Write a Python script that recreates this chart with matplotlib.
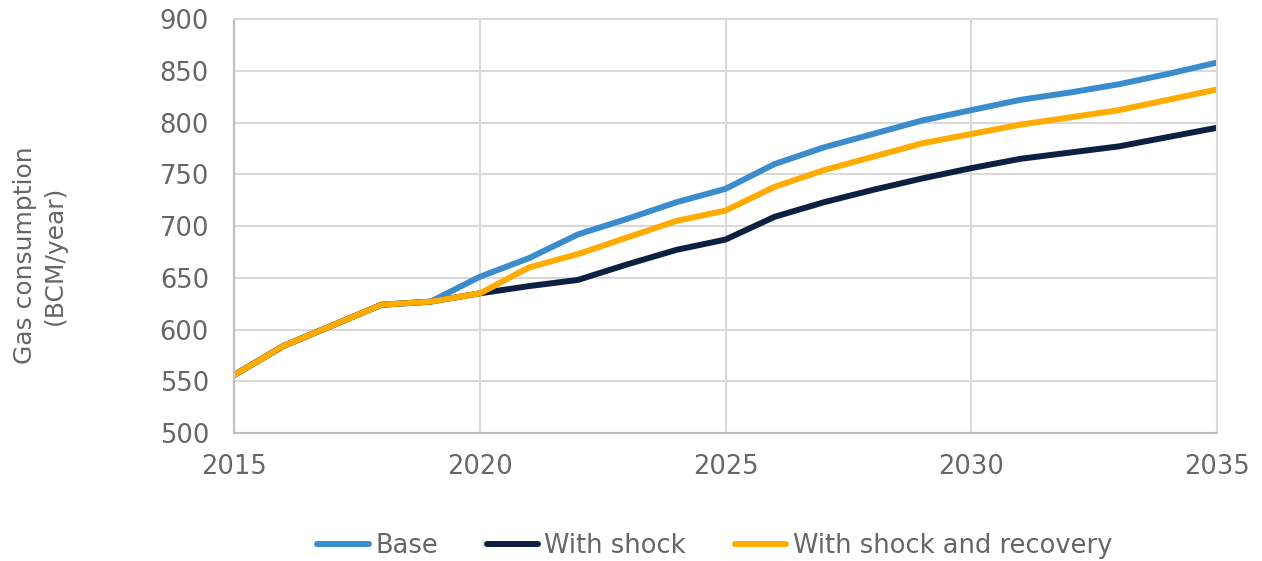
import matplotlib.pyplot as plt
import numpy as np

years = list(range(2015, 2036))
base = [556, 584, 604, 624, 627, 651, 669, 692, 707, 723, 736,
        760, 776, 789, 802, 812, 822, 829, 837, 847, 858]
shock = [556, 584, 604, 624, 627, 635, 642, 648, 663, 677, 687,
         709, 723, 735, 746, 756, 765, 771, 777, 786, 795]
recovery = [556, 584, 604, 624, 627, 635, 660, 673, 689, 705, 715,
            738, 754, 767, 780, 789, 798, 805, 812, 822, 832]

series_names = ['Base', 'With shock', 'With shock and recovery']
colors = ['#3a8ccc', '#0e2041', '#ffab00']

plt.rcParams['font.family'] = ['DejaVu Sans']
text_color = '#666666'

fig = plt.figure(figsize=(12.62, 5.61), dpi=100)
ax = fig.add_axes([0.1854, 0.228, 0.779, 0.738])

for vals, name, c in zip([base, shock, recovery], series_names, colors):
    ax.plot(years, vals, color=c, lw=4.3, label=name, solid_capstyle='round')

ax.set_xlim(2015, 2035)
ax.set_ylim(500, 900)
ax.set_xticks(np.arange(2015, 2036, 5))
ax.set_yticks(np.arange(500, 901, 50))
ax.grid(True, color='#d9d9d9', lw=1.5)
ax.set_axisbelow(True)
for s in ax.spines.values():
    s.set_color('#d9d9d9')
    s.set_linewidth(1.5)
ax.spines['left'].set_color('#bfbfbf')
ax.spines['bottom'].set_color('#bfbfbf')
ax.tick_params(axis='y', length=0, labelsize=18.5, colors=text_color, pad=18)
ax.tick_params(axis='x', length=0, labelsize=18.5, colors=text_color, pad=15)

fig.text(40 / 1262, 1 - 255 / 561, 'Gas consumption\n(BCM/year)', rotation=90,
         ha='center', va='center', fontsize=18, color=text_color, linespacing=1.3)

leg = ax.legend(loc='center', bbox_to_anchor=(0.489, -0.272), ncol=3, frameon=False,
                fontsize=18.5, handlelength=2.0, handletextpad=0.25, columnspacing=1.9)
for t in leg.get_texts():
    t.set_color(text_color)

fig.savefig('out.png', dpi=100)
